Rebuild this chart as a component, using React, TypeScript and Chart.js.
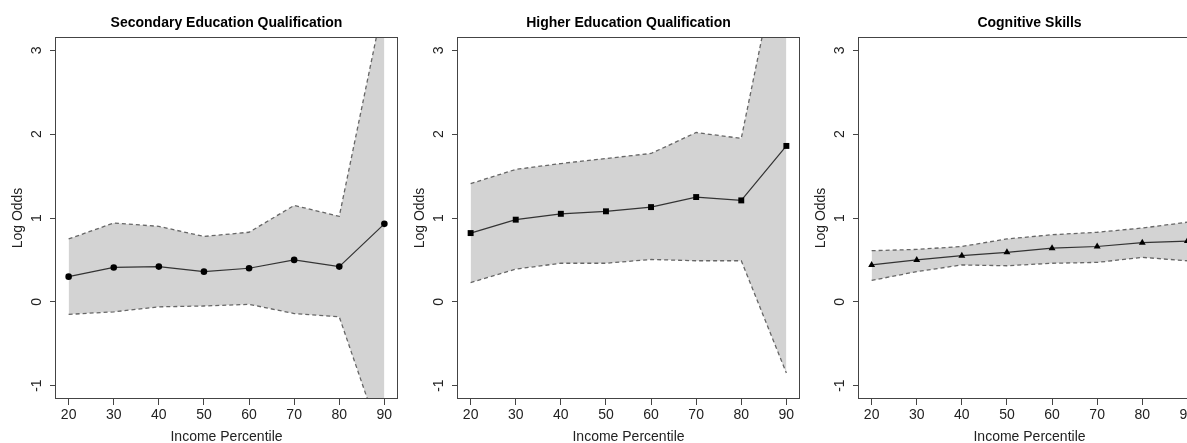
import React, { useEffect, useRef } from "react";
import { Chart, registerables } from "chart.js";

Chart.register(...registerables);

const percentiles = [20, 30, 40, 50, 60, 70, 80, 90];
const xTickValues = [20, 30, 40, 50, 60, 70, 80, 90];
const yTickValues = [-1, 0, 1, 2, 3];

const secondaryEstimate = [0.3, 0.41, 0.42, 0.36, 0.4, 0.5, 0.42, 0.93];
const secondaryUpper = [0.75, 0.94, 0.9, 0.78, 0.83, 1.15, 1.02, 3.62];
const secondaryLower = [-0.15, -0.12, -0.06, -0.05, -0.03, -0.14, -0.18, -1.75];

const higherEstimate = [0.82, 0.98, 1.05, 1.08, 1.13, 1.25, 1.21, 1.86];
const higherUpper = [1.41, 1.58, 1.65, 1.71, 1.77, 2.02, 1.95, 4.57];
const higherLower = [0.23, 0.39, 0.46, 0.46, 0.505, 0.49, 0.49, -0.85];

const cognitiveEstimate = [0.44, 0.5, 0.55, 0.59, 0.64, 0.66, 0.705, 0.725];
const cognitiveUpper = [0.61, 0.625, 0.66, 0.75, 0.8, 0.83, 0.88, 0.95];
const cognitiveLower = [0.255, 0.36, 0.44, 0.43, 0.46, 0.47, 0.53, 0.49];

const panelTitles = [
  "Secondary Education Qualification",
  "Higher Education Qualification",
  "Cognitive Skills",
];
const xAxisTitle = "Income Percentile";
const yAxisTitle = "Log Odds";

const FONT = "'Liberation Sans', Arial, Helvetica, sans-serif";

const boxPlugin = {
  id: "plotBox",
  afterDatasetsDraw(chart: any) {
    const { ctx, chartArea } = chart;
    const l = Math.round(chartArea.left) - 0.5;
    const t = Math.round(chartArea.top) + 0.5;
    const r = Math.round(chartArea.right) + 0.5;
    const b = Math.round(chartArea.bottom) - 0.5;
    ctx.save();
    ctx.strokeStyle = "#444";
    ctx.lineWidth = 1;
    ctx.strokeRect(l, t, r - l, b - t);
    ctx.restore();
  },
};

type PanelProps = {
  left: number;
  title: string;
  est: number[];
  up: number[];
  lo: number[];
  marker: string;
  radius: number;
};

function Panel({ left, title, est, up, lo, marker, radius }: PanelProps) {
  const ref = useRef<HTMLCanvasElement>(null);
  useEffect(() => {
    const toPts = (arr: number[]) => percentiles.map((x, i) => ({ x, y: arr[i] }));
    const chart = new Chart(ref.current!, {
      type: "line",
      data: {
        datasets: [
          {
            data: toPts(up),
            borderColor: "#666",
            borderWidth: 1.3,
            borderDash: [4, 3],
            pointRadius: 0,
            fill: "+1",
            backgroundColor: "#d3d3d3",
            tension: 0,
          },
          {
            data: toPts(lo),
            borderColor: "#666",
            borderWidth: 1.3,
            borderDash: [4, 3],
            pointRadius: 0,
            fill: false,
            tension: 0,
          },
          {
            data: toPts(est),
            borderColor: "#333",
            borderWidth: 1.2,
            pointStyle: marker as any,
            pointRadius: radius,
            pointBackgroundColor: "#000",
            pointBorderColor: "#000",
            pointBorderWidth: 0,
            fill: false,
            tension: 0,
          },
        ],
      },
      options: {
        animation: false,
        responsive: false,
        events: [],
        layout: { padding: { left: 0, right: 5, top: 0, bottom: 0 } },
        plugins: {
          legend: { display: false },
          tooltip: { enabled: false },
          filler: { drawTime: "beforeDatasetsDraw" } as any,
          title: {
            display: true,
            text: title,
            fullSize: false,
            color: "#000",
            font: { family: FONT, size: 14, weight: "bold", lineHeight: 1.2 },
            padding: { top: 14.5, bottom: 5.7 },
          },
        },
        scales: {
          x: {
            type: "linear",
            min: 17.2,
            max: 92.8,
            afterBuildTicks: (s: any) => {
              s.ticks = xTickValues.map((v) => ({ value: v }));
            },
            afterFit: (s: any) => {
              s.height = 44;
            },
            grid: {
              display: true,
              drawOnChartArea: false,
              drawTicks: true,
              tickLength: 6,
              color: "#444",
            },
            border: { display: false },
            ticks: {
              color: "#222",
              font: { family: FONT, size: 14 },
              padding: 2,
              maxRotation: 0,
              autoSkip: false,
            },
            title: {
              display: true,
              text: xAxisTitle,
              color: "#222",
              font: { family: FONT, size: 14, lineHeight: 1 },
              padding: { top: 0, bottom: -1 },
            },
          },
          y: {
            type: "linear",
            min: -1.16,
            max: 3.16,
            afterBuildTicks: (s: any) => {
              s.ticks = yTickValues.map((v) => ({ value: v }));
            },
            afterFit: (s: any) => {
              s.width = 56;
            },
            grid: {
              display: true,
              drawOnChartArea: false,
              drawTicks: true,
              tickLength: 6,
              color: "#444",
            },
            border: { display: false },
            ticks: {
              color: "#222",
              font: { family: FONT, size: 14 },
              padding: 7,
              minRotation: 90,
              maxRotation: 90,
              crossAlign: "center",
              autoSkip: false,
            },
            title: {
              display: true,
              text: yAxisTitle,
              color: "#222",
              font: { family: FONT, size: 14, lineHeight: 1.2 },
              padding: { top: 9.6, bottom: 0 },
            },
          },
        },
      },
      plugins: [boxPlugin],
    } as any);
    return () => chart.destroy();
  }, []);
  return (
    <canvas
      ref={ref}
      width={402}
      height={443}
      style={{ position: "absolute", left, top: 0, width: 402, height: 443 }}
    />
  );
}

export default function App() {
  return (
    <div
      style={{
        position: "fixed",
        left: 0,
        top: 0,
        width: 1187,
        height: 443,
        overflow: "hidden",
        background: "#fff",
      }}
    >
      <Panel left={0} title={panelTitles[0]} est={secondaryEstimate} up={secondaryUpper} lo={secondaryLower} marker="circle" radius={3.3} />
      <Panel left={402} title={panelTitles[1]} est={higherEstimate} up={higherUpper} lo={higherLower} marker="rect" radius={4.2} />
      <Panel left={803} title={panelTitles[2]} est={cognitiveEstimate} up={cognitiveUpper} lo={cognitiveLower} marker="triangle" radius={4} />
    </div>
  );
}
